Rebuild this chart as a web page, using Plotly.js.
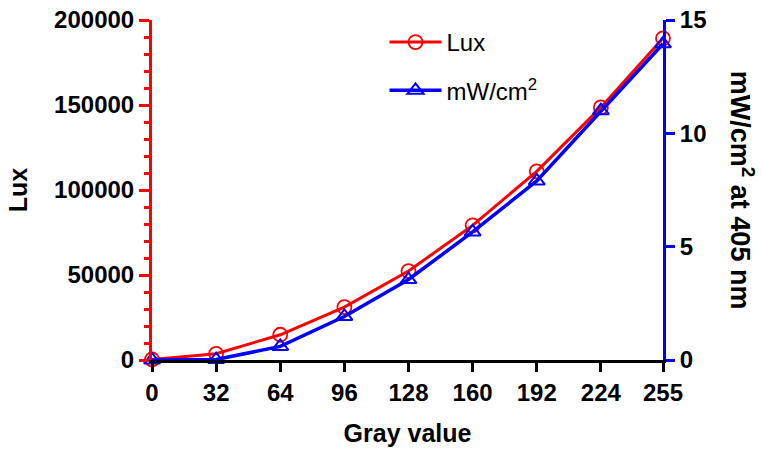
<!DOCTYPE html>
<html>
<head>
<meta charset="utf-8">
<script src="https://cdn.plot.ly/plotly-3.0.1.min.js"></script>
<style>html,body{margin:0;padding:0;background:#fff;}#chart{width:762px;height:450px;}</style>
</head>
<body>
<div id="chart"></div>
<script>
const grayValues = [0, 32, 64, 96, 128, 160, 192, 224, 255];
const luxValues = [300, 3650, 14850, 31100, 52300, 79200, 111000, 148600, 189200];
const mwValues = [0, 0.02, 0.6, 1.92, 3.55, 5.65, 7.9, 11.0, 13.95];
const xTickLabels = ['0', '32', '64', '96', '128', '160', '192', '224', '255'];
const luxTicks = [0, 50000, 100000, 150000, 200000];
const luxTickLabels = ['0', '50000', '100000', '150000', '200000'];
const mwTicks = [0, 5, 10, 15];

const FONT = 'Liberation Sans, Arial, sans-serif';

const traces = [
  {
    x: grayValues, y: luxValues, name: 'Lux', type: 'scatter', mode: 'lines+markers',
    line: {color: '#ff0000', width: 3},
    marker: {symbol: 'circle-open', size: 14, color: '#ff0000', line: {width: 1.8, color: '#ff0000'}},
    cliponaxis: false, legendgroup: 'a'
  },
  {
    x: grayValues, y: mwValues, name: 'mW/cm<sup>2</sup>', type: 'scatter', mode: 'lines+markers',
    yaxis: 'y2',
    line: {color: '#0000ff', width: 3.5},
    marker: {symbol: 'triangle-up-open', size: 14, color: '#0000ff', line: {width: 2, color: '#0000ff'}},
    cliponaxis: false, legendgroup: 'b'
  }
];

const layout = {
  width: 762, height: 450,
  margin: {l: 152, r: 99, t: 20, b: 90},
  paper_bgcolor: '#fff', plot_bgcolor: '#fff',
  font: {family: FONT, color: '#000'},
  showlegend: true,
  legend: {
    x: 0.455, y: 1.0, xanchor: 'left', yanchor: 'top',
    font: {family: FONT, size: 24, color: '#000'},
    bgcolor: 'rgba(0,0,0,0)', traceorder: 'grouped', tracegroupgap: 14,
    itemwidth: 52
  },
  xaxis: {
    range: [0, 255], tickvals: grayValues, ticktext: xTickLabels,
    showgrid: false, zeroline: false, showline: true, linecolor: '#000', linewidth: 3,
    ticks: 'outside', ticklen: 9, tickwidth: 3, tickcolor: '#000',
    tickfont: {family: FONT, size: 24, color: '#000', weight: 'bold'},
    title: {text: '<b>Gray value</b>', font: {family: FONT, size: 25, color: '#000'}, standoff: 20}
  },
  yaxis: {
    range: [0, 200000], tickvals: luxTicks, ticktext: luxTickLabels,
    showgrid: false, zeroline: false, showline: true, linecolor: '#ff0000', linewidth: 3,
    ticks: 'outside', ticklen: 10, tickwidth: 3, tickcolor: '#ff0000',
    minor: {dtick: 10000, ticks: 'outside', ticklen: 5, tickwidth: 3, tickcolor: '#ff0000'},
    tickfont: {family: FONT, size: 24, color: '#000', weight: 'bold'},
    title: {text: '<b>Lux</b>', font: {family: FONT, size: 25, color: '#000'}, standoff: 20}
  },
  yaxis2: {
    range: [0, 15], tickvals: mwTicks, overlaying: 'y', side: 'right', anchor: 'x',
    showgrid: false, zeroline: false, showline: true, linecolor: '#0000ff', linewidth: 3,
    ticks: 'outside', ticklen: 9, tickwidth: 3, tickcolor: '#0000ff',
    tickfont: {family: FONT, size: 24, color: '#000', weight: 'bold'}
  },
  annotations: [
    {
      text: '<b>mW/cm<sup>2</sup> at 405 nm</b>', xref: 'paper', yref: 'paper',
      x: 1.155, y: 0.5, xanchor: 'center', yanchor: 'middle', textangle: 90, showarrow: false,
      font: {family: FONT, size: 27, color: '#000'}
    }
  ]
};

Plotly.newPlot('chart', traces, layout, {displayModeBar: false, staticPlot: true});
</script>
</body>
</html>
